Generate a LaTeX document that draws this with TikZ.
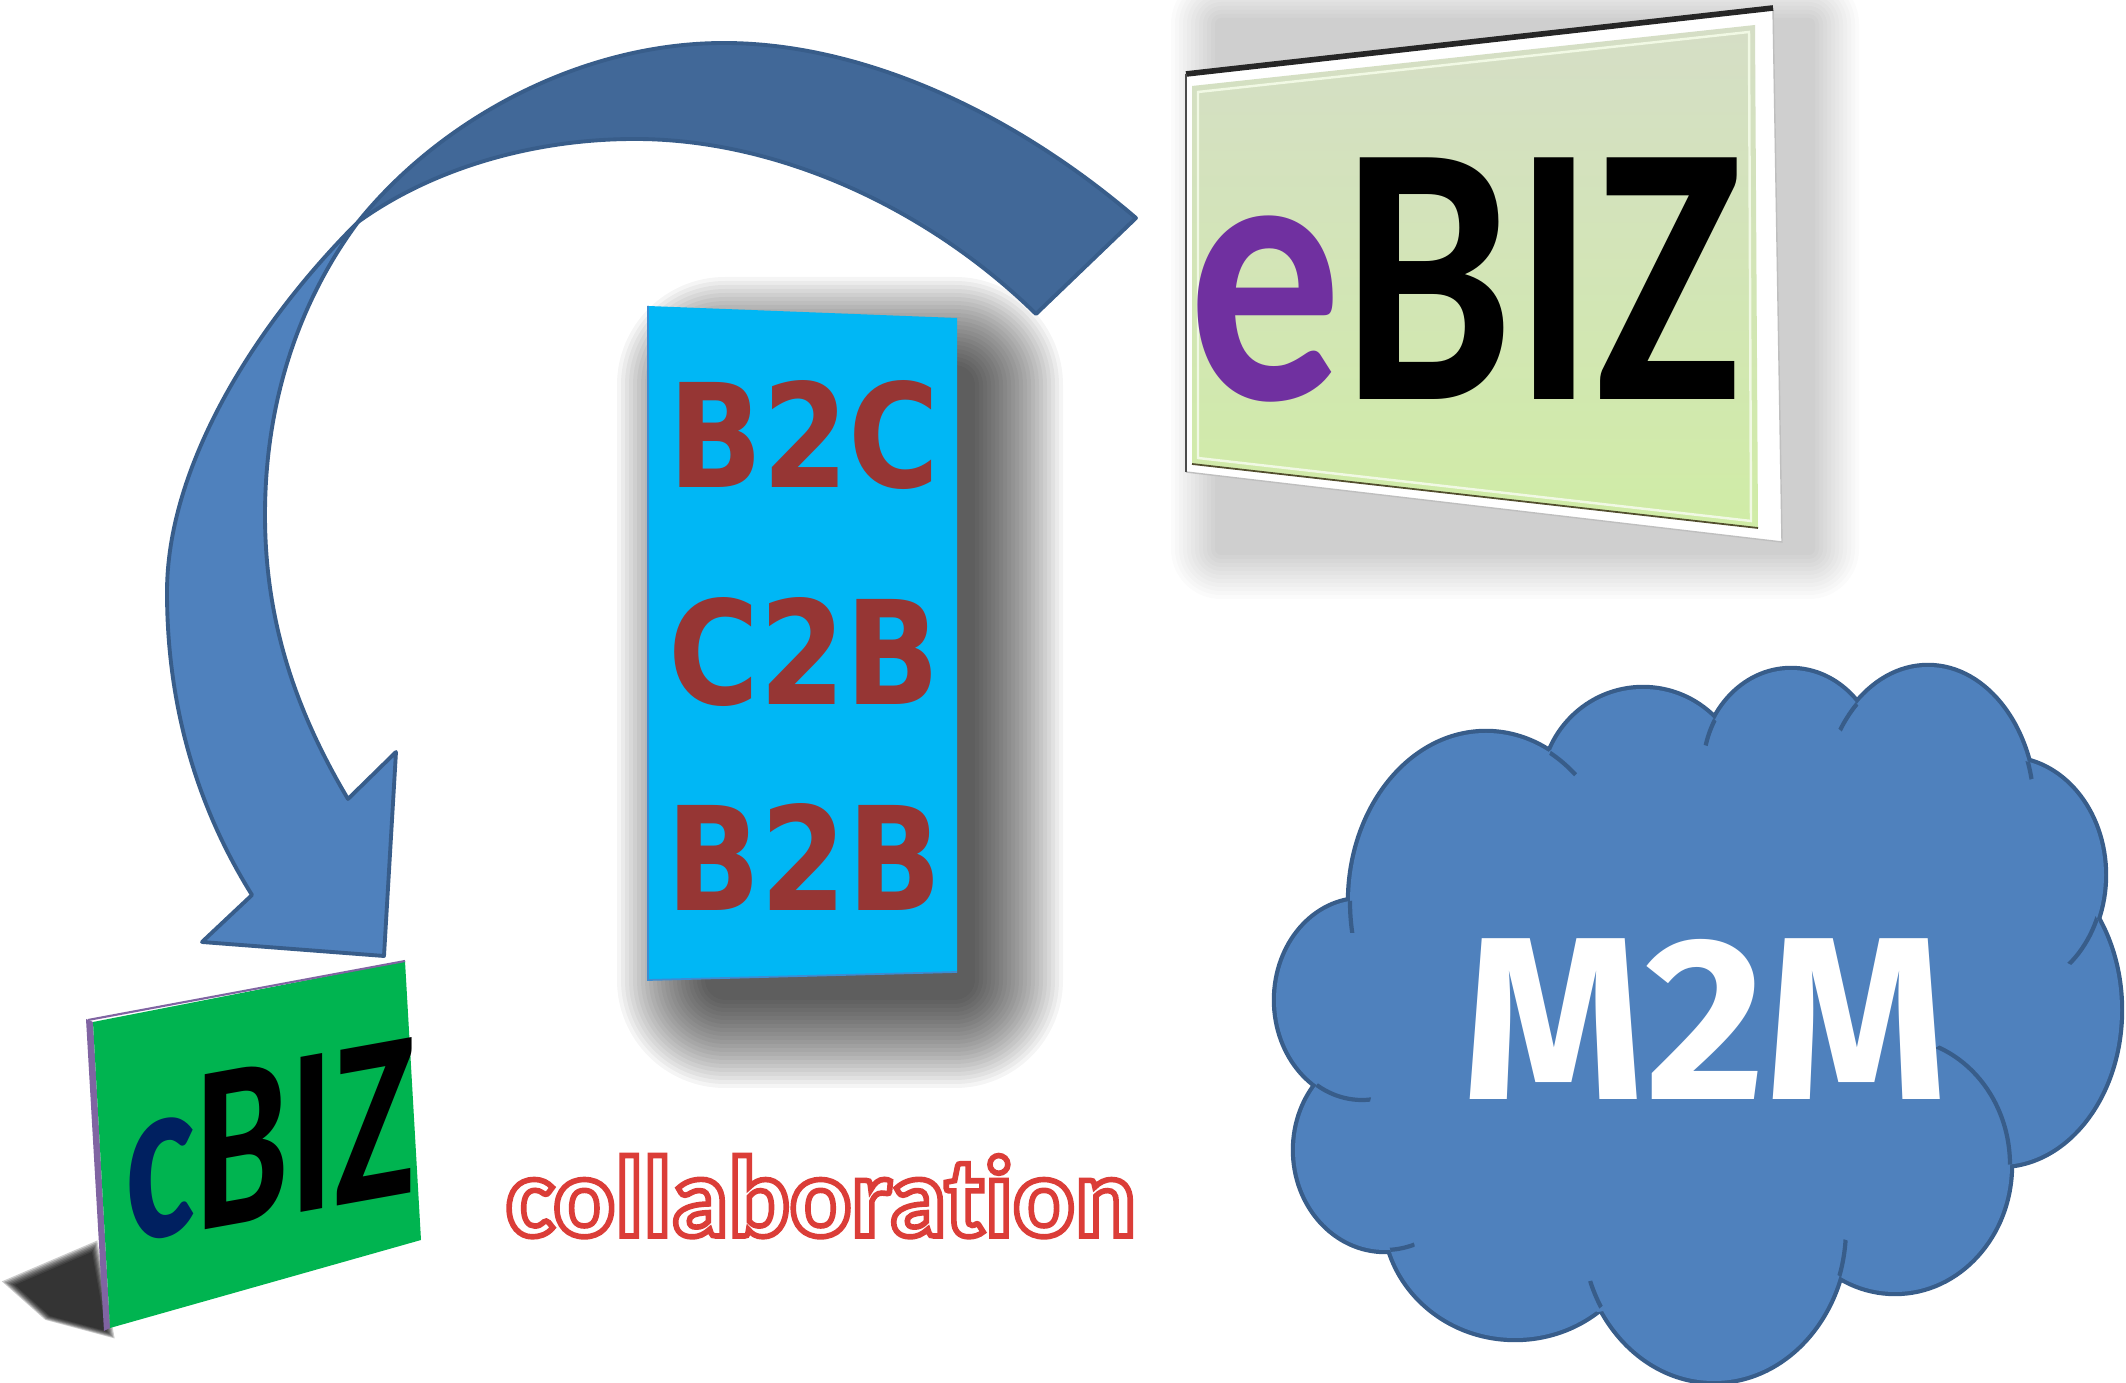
\documentclass[tikz,border=0pt]{standalone}
\usepackage{fontspec}
\newfontfamily\carlito{Carlito}
\newfontfamily\carlitonolig[Ligatures=NoCommon]{Carlito}
\newfontfamily\dejavu{DejaVu Sans}
\newfontfamily\fira{Fira Sans}
\definecolor{arrowlight}{RGB}{79,129,189}
\definecolor{arrowdark}{RGB}{65,104,152}
\definecolor{arrowline}{RGB}{56,93,138}
\definecolor{panelblue}{RGB}{0,183,245}
\definecolor{paneledge}{RGB}{60,140,210}
\definecolor{textred}{RGB}{150,54,52}
\definecolor{cbgreen}{RGB}{0,180,80}
\definecolor{cbpurple}{RGB}{128,100,162}
\definecolor{epurple}{RGB}{112,48,160}
\definecolor{cnavy}{RGB}{0,32,96}
\definecolor{ebtop}{RGB}{213,222,198}
\definecolor{ebbot}{RGB}{208,236,166}
\tikzset{
  arrowpart/.style={draw=arrowline, line width=1.1pt, line join=round},
  cloudstub/.style={draw=arrowline, line width=1.2pt},
}
% cloud bumps
\def\bumpA{(1486,902) ellipse [x radius=136, y radius=169]}
\def\bumpB{(1643,790) ellipse [x radius=100, y radius=101]}
\def\bumpC{(1791,770) ellipse [x radius=88, y radius=100]}
\def\bumpD{(1928,810) ellipse [x radius=106, y radius=143]}
\def\bumpE{(2007,875) ellipse [x radius=97, y radius=116]}
\def\bumpF{(2000,1010) ellipse [x radius=120, y radius=155]}
\def\bumpG{(1895,1165) ellipse [x radius=115, y radius=127]}
\def\bumpH{(1714,1228) ellipse [x radius=132, y radius=153]}
\def\bumpI{(1515,1215) ellipse [x radius=130, y radius=123]}
\def\bumpJ{(1385,1150) ellipse [x radius=90, y radius=100]}
\def\bumpK{(1362,1000) ellipse [x radius=86, y radius=100]}
\newcommand\cloudstubarc[4]{% #1 bump that continues, #2 bump it runs into, #3 point, #4 length
  \begin{scope}
    \clip #2;
    \clip #3 circle [radius=#4];
    \draw[cloudstub] #1;
  \end{scope}}
\begin{document}
\begin{tikzpicture}[x=0.01cm, y=-0.01cm]
\useasboundingbox (0,0) rectangle (2126,1383);
\fill[white] (0,0) rectangle (2126,1383);

% ---------- shadows ----------
\foreach \r in {0,4,...,44} {
  \pgfmathsetmacro\rc{(\r+6)*0.2845}
  \fill[black, opacity=0.017, rounded corners=\rc pt] ({1215-\r},{18-\r}) rectangle ({1815+\r},{555+\r});
}
\foreach \r in {0,4,...,88} {
  \pgfmathsetmacro\rc{(\r+20)*0.2845}
  \fill[black, opacity=0.038, rounded corners=\rc pt] ({705-\r},{365-\r}) rectangle ({975+\r},{1000+\r});
}

% ---------- eBIZ board ----------
\coordinate (EA) at (1186,74);
\coordinate (EB) at (1773,8);
\coordinate (EC) at (1782,542);
\coordinate (ED) at (1186,472);
\fill[white] (EA)--(EB)--(EC)--(ED)--cycle;
\draw[gray!50, line width=0.4pt] (EB)--(EC)--(ED);
\shade[top color=ebtop, bottom color=ebbot] (1192,86)--(1755,25)--(1758,528)--(1192,464)--cycle;
\draw[white!70!ebbot, line width=0.7pt] (1198,92)--(1749,32)--(1751,521)--(1198,458)--cycle;
\draw[black!55!olive, line width=0.5pt] (1192,464)--(1758,528);
\draw[black!85, line width=1.6pt] (EA)--(EB);
\draw[black!70, line width=0.6pt] (EA)--(ED);
\node[font=\carlito\bfseries\fontsize{106}{106}\selectfont, xscale=0.82, anchor=base, inner sep=0pt] (ebiz) at (1465,400) {\textcolor{epurple}{e}BIZ};

% ---------- B2C panel ----------
\fill[panelblue] (648,306)--(957,318)--(957,972)--(648,980)--cycle;
\draw[paneledge, line width=0.5pt] (648,306)--(648,980)--(957,972);
\node[font=\dejavu\bfseries\fontsize{41}{41}\selectfont, text=textred, xscale=0.86, anchor=base, inner sep=0pt] (b2c) at (804,488) {B2C};
\node[font=\dejavu\bfseries\fontsize{41}{41}\selectfont, text=textred, xscale=0.86, anchor=base, inner sep=0pt] (c2b) at (804,705) {C2B};
\node[font=\dejavu\bfseries\fontsize{41}{41}\selectfont, text=textred, xscale=0.86, anchor=base, inner sep=0pt] (b2b) at (804,911) {B2B};

% ---------- curved arrow ----------
\filldraw[arrowpart, fill=arrowdark]
  (1136,218) .. controls (1010,110) and (860,43) .. (724,43)
  .. controls (580,43) and (440,120) .. (358,222)
  .. controls (430,170) and (530,139) .. (635,139)
  .. controls (780,139) and (930,210) .. (1036,314)
  -- cycle;
\filldraw[arrowpart, fill=arrowlight]
  (358,222) .. controls (250,330) and (167,470) .. (167,592)
  .. controls (167,720) and (205,820) .. (252,895)
  -- (202,942) -- (384,956) -- (396,752) -- (348,799)
  .. controls (295,710) and (265,620) .. (265,515)
  .. controls (265,400) and (300,300) .. (358,222)
  -- cycle;

% ---------- cBIZ board ----------
\foreach \s in {1.0,1.04,...,1.25} {
  \begin{scope}[shift={(70,1300)}, scale=\s, shift={(-70,-1300)}]
    \fill[black, opacity=0.2] (15,1285)--(92,1252)--(106,1331)--(50,1316)--cycle;
  \end{scope}
}
\fill[cbpurple] (86,1019)--(93,1022)--(110,1328)--(104,1331)--cycle;
\fill[cbgreen] (93,1022)--(405,961)--(421,1240)--(110,1328)--cycle;
\draw[cbpurple, line width=0.6pt] (88,1020)--(405,961);
\node[font=\carlito\bfseries\fontsize{68}{68}\selectfont, yslant=0.18, xscale=0.70, anchor=base, inner sep=0pt] (cbiz) at (270,1218) {\textcolor{cnavy}{c}BIZ};

% ---------- collaboration (white fill, red outline) ----------
\node[font=\carlitonolig\bfseries\fontsize{32.6}{32.6}\selectfont, text=white, anchor=base, inner sep=0pt] (collab) at (821,1236)
  {\special{pdf:literal direct 2 Tr 1.6 w 0.86 0.24 0.22 RG}collaboration\special{pdf:literal direct 0 Tr}};

% ---------- cloud ----------
\foreach \b in {\bumpA,\bumpB,\bumpC,\bumpD,\bumpE,\bumpF,\bumpG,\bumpH,\bumpI,\bumpJ,\bumpK} {
  \draw[arrowline, line width=2.4pt] \b;
}
\fill[arrowlight] (1352,905)--(1551,750)--(1714,722)--(1859,707)--(2026,760)--(2093,920)--(2006,1163)--(1835,1270)--(1598,1312)--(1390,1250)--(1317,1087)--cycle;
\foreach \b in {\bumpA,\bumpB,\bumpC,\bumpD,\bumpE,\bumpF,\bumpG,\bumpH,\bumpI,\bumpJ,\bumpK} {
  \fill[arrowlight] \b;
}
\cloudstubarc{\bumpA}{\bumpK}{(1352,905)}{28}
\cloudstubarc{\bumpA}{\bumpB}{(1551,750)}{35}
\cloudstubarc{\bumpC}{\bumpB}{(1714,722)}{25}
\cloudstubarc{\bumpD}{\bumpC}{(1859,707)}{30}
\cloudstubarc{\bumpD}{\bumpE}{(2026,760)}{20}
\cloudstubarc{\bumpE}{\bumpF}{(2093,920)}{50}
\cloudstubarc{\bumpG}{\bumpF}{(2006,1163)}{135}
\cloudstubarc{\bumpH}{\bumpG}{(1835,1270)}{32}
\cloudstubarc{\bumpH}{\bumpI}{(1598,1312)}{32}
\cloudstubarc{\bumpJ}{\bumpI}{(1390,1250)}{25}
\cloudstubarc{\bumpK}{\bumpJ}{(1317,1087)}{55}
\node[font=\fira\bfseries\fontsize{66}{66}\selectfont, text=white, anchor=base, inner sep=0pt] (m2m) at (1705,1100) {M2M};
\end{tikzpicture}
\end{document}
